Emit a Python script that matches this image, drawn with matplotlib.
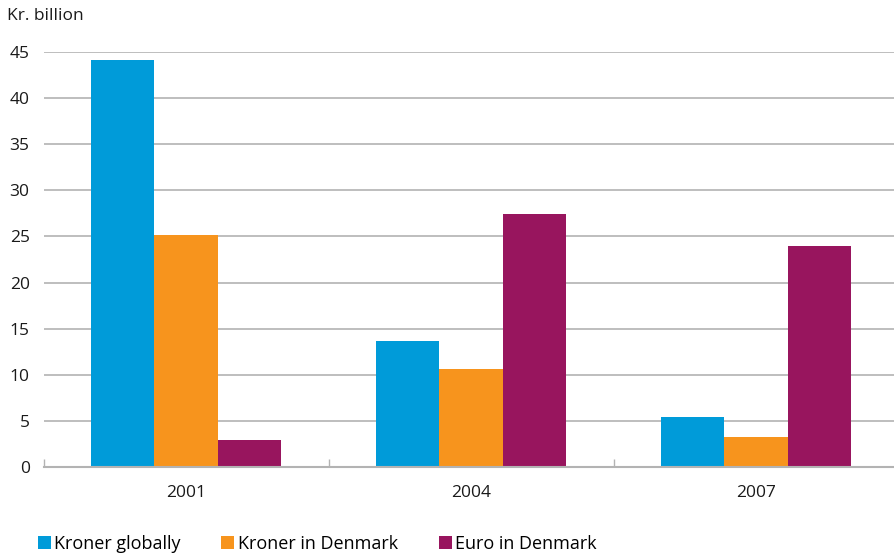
import matplotlib.pyplot as plt
import numpy as np

plt.rcParams['font.family'] = ['Open Sans', 'DejaVu Sans']

years = ['2001', '2004', '2007']
series = ['Kroner globally', 'Kroner in Denmark', 'Euro in Denmark']
kroner_globally = [44.1, 13.7, 5.4]
kroner_denmark = [25.2, 10.6, 3.3]
euro_denmark = [2.9, 27.4, 24.0]
colors = ['#009bd9', '#f7941d', '#98155e']

fig = plt.figure(figsize=(8.94, 5.59), dpi=100)
ax = fig.add_axes([0.0487, 0.1646, 0.9564, 0.7424])

x = np.arange(len(years))
w = 0.222
for i, (vals, name) in enumerate(zip([kroner_globally, kroner_denmark, euro_denmark], series)):
    ax.bar(x + (i - 1) * w, vals, w, color=colors[i], label=name, zorder=3)

ax.set_xlim(-0.5, 2.5)
ax.set_ylim(0, 45)
ax.set_yticks(range(0, 46, 5))
ax.yaxis.grid(True, color='#b3b3b3', linewidth=1.2, zorder=0)
ax.set_axisbelow(True)
for s in ['top', 'right', 'left']:
    ax.spines[s].set_visible(False)
ax.spines['bottom'].set_color('#b3b3b3')
ax.spines['bottom'].set_linewidth(1.5)
ax.spines['bottom'].set_zorder(4)

ax.set_xticks(x)
ax.set_xticklabels(years)
ax.set_xticks([-0.5, 0.5, 1.5], minor=True)
ax.tick_params(axis='x', which='major', length=0, pad=13, labelsize=12.5, labelcolor='#1a1a1a')
ax.tick_params(axis='x', which='minor', direction='in', length=6, color='#b3b3b3', width=1)
ax.tick_params(axis='y', length=0, pad=10, labelsize=12.5, labelcolor='#1a1a1a')

fig.text(0.008, 0.972, 'Kr. billion', fontsize=12.5, color='#1a1a1a', va='center', ha='left')

fig.legend(loc='center left', bbox_to_anchor=(0.042, 0.027), ncol=3, frameon=False,
           fontsize=13, handlelength=0.72, handleheight=0.72, handletextpad=0.2,
           columnspacing=2.25, borderaxespad=0, borderpad=0)

fig.savefig('out.png', dpi=100)
